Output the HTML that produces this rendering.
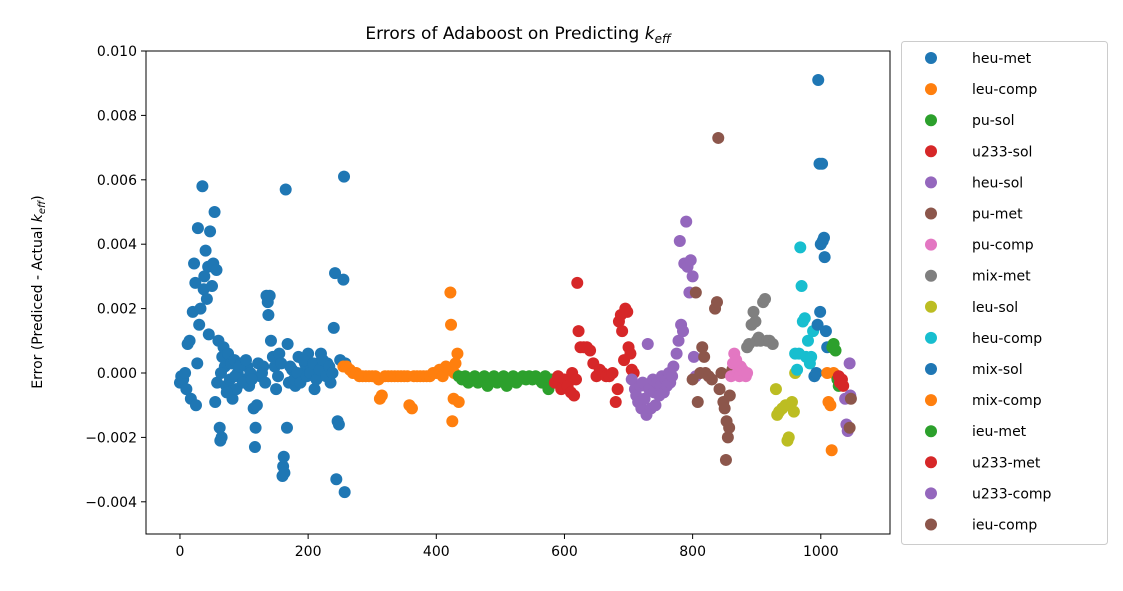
<!DOCTYPE html>
<html><head><meta charset="utf-8">
<style>
body{margin:0;background:#fff;font-family:"Liberation Sans","DejaVu Sans",sans-serif;}
svg text{font-family:"DejaVu Sans","Liberation Sans",sans-serif;}
</style></head>
<body>
<svg id="chart" width="1123" height="586" xmlns="http://www.w3.org/2000/svg"></svg>
<script>
// Data (y values in units of 1e-3)
const seriesNames = ["heu-met","leu-comp","pu-sol","u233-sol","heu-sol","pu-met","pu-comp","mix-met","leu-sol","heu-comp","mix-sol","mix-comp","ieu-met","u233-met","u233-comp","ieu-comp"];
const seriesColors = ["#1f77b4","#ff7f0e","#2ca02c","#d62728","#9467bd","#8c564b","#e377c2","#7f7f7f","#bcbd22","#17becf","#1f77b4","#ff7f0e","#2ca02c","#d62728","#9467bd","#8c564b"];
const heuMetX=[0,2,5,8,10,12,15,17,20,22,24,25,27,28,30,32,35,37,38,40,42,44,45,47,50,52,54,55,57,58,60,62,63,65,66,68,70,72,75,78,80,82,85,88,90,95,100,105,108,110,115,117,118,120,122,125,130,135,137,138,140,142,145,150,155,160,161,162,163,165,167,168,170,175,180,185,190,195,200,205,210,215,220,225,230,235,240,242,244,246,248,250,255,256,257,258,64,73,86,93,98,103,112,128,133,148,153,158,172,178,183,188,193,198,203,208,213,218,223,228,233,238];
const heuMetY=[-0.3,-0.1,-0.2,0.0,-0.5,0.9,1.0,-0.8,1.9,3.4,2.8,-1.0,0.3,4.5,1.5,2.0,5.8,2.6,3.0,3.8,2.3,3.3,1.2,4.4,2.7,3.4,5.0,-0.9,3.2,-0.3,1.0,-1.7,-2.1,-2.0,0.5,0.8,0.2,-0.4,0.6,-0.2,0.3,-0.8,0.4,-0.5,0.0,0.3,-0.2,0.2,-0.4,0.0,-1.1,-2.3,-1.7,-1.0,0.3,-0.1,0.2,2.4,2.2,1.8,2.4,1.0,0.5,-0.5,0.6,-3.2,-2.9,-2.6,-3.1,5.7,-1.7,0.9,-0.3,0.1,-0.4,0.5,0.0,0.3,0.6,0.2,-0.5,0.3,0.6,0.0,0.3,-0.3,1.4,3.1,-3.3,-1.5,-1.6,0.4,2.9,6.1,-3.7,0.3,0.0,-0.6,-0.1,0.2,-0.3,0.4,-0.2,0.0,-0.3,0.2,-0.1,0.3,0.2,-0.2,0.0,-0.3,0.4,-0.1,0.0,0.3,-0.2,0.1,0.4,-0.1,0.2,0.0];
const leuCompX=[255,260,265,270,275,280,285,290,295,300,305,310,312,315,320,325,330,335,340,345,350,355,358,362,365,370,375,380,385,390,395,400,405,410,415,420,422,423,425,427,430,433,435,428];
const leuCompY=[0.2,0.2,0.1,0.0,0.0,-0.1,-0.1,-0.1,-0.1,-0.1,-0.1,-0.2,-0.8,-0.7,-0.1,-0.1,-0.1,-0.1,-0.1,-0.1,-0.1,-0.1,-1.0,-1.1,-0.1,-0.1,-0.1,-0.1,-0.1,-0.1,0.0,0.0,0.1,-0.1,0.2,0.1,2.5,1.5,-1.5,-0.8,0.3,0.6,-0.9,0.0];
const puSolX=[435,440,445,450,455,460,465,470,475,480,485,490,495,500,505,510,515,520,525,530,535,540,545,550,555,560,565,570,575,580,585];
const puSolY=[-0.1,-0.2,-0.1,-0.3,-0.2,-0.1,-0.3,-0.2,-0.1,-0.4,-0.2,-0.1,-0.3,-0.2,-0.1,-0.4,-0.2,-0.1,-0.3,-0.2,-0.1,-0.2,-0.1,-0.2,-0.1,-0.2,-0.3,-0.1,-0.5,-0.2,-0.3];
const u233SolX=[585,590,595,600,605,610,612,615,618,620,622,625,630,635,640,645,650,655,660,665,670,675,680,683,685,688,690,693,695,698,700,703,705,708];
const u233SolY=[-0.3,-0.1,-0.5,-0.2,-0.4,-0.6,0.0,-0.7,-0.2,2.8,1.3,0.8,0.8,0.8,0.7,0.3,-0.1,0.1,0.0,-0.1,-0.1,0.0,-0.9,-0.5,1.6,1.8,1.3,0.4,2.0,1.9,0.8,0.6,0.1,0.0];
const heuSolX=[705,710,712,715,718,720,722,725,728,730,732,735,738,740,742,745,748,750,752,755,758,760,763,765,768,770,775,778,780,782,785,787,790,792,795,797,800,802,805];
const heuSolY=[-0.2,-0.5,-0.7,-0.9,-0.4,-1.1,-0.3,-0.8,-1.3,0.9,-0.5,-1.1,-0.2,-0.6,-1.0,-0.3,-0.7,-0.4,-0.1,-0.6,-0.2,-0.4,0.0,-0.3,-0.1,0.2,0.6,1.0,4.1,1.5,1.3,3.4,4.7,3.3,2.5,3.5,3.0,0.5,-0.1];
const puMetX=[800,805,808,812,815,818,820,825,830,835,838,840,842,845,848,850,852,853,855,857,858,860,862];
const puMetY=[-0.2,2.5,-0.9,0.0,0.8,0.5,0.0,-0.1,-0.2,2.0,2.2,7.3,-0.5,0.0,-0.9,-1.1,-2.7,-1.5,-2.0,-1.7,-0.7,0.0,0.1];
const puCompX=[860,863,865,868,870,873,875,878,880,883,885];
const puCompY=[-0.1,0.3,0.6,0.4,0.0,-0.1,0.2,0.1,0.0,-0.1,0.0];
const mixMetX=[885,888,892,895,898,900,903,906,910,913,916,920,925];
const mixMetY=[0.8,0.9,1.5,1.9,1.6,1.0,1.1,1.0,2.2,2.3,1.0,1.0,0.9];
const leuSolX=[930,932,935,940,945,948,950,955,958,960];
const leuSolY=[-0.5,-1.3,-1.2,-1.1,-1.0,-2.1,-2.0,-0.9,-1.2,0.0];
const heuCompX=[960,963,966,968,970,972,975,977,980,983,985,988];
const heuCompY=[0.6,0.1,0.6,3.9,2.7,1.6,1.7,0.5,1.0,0.3,0.5,1.3];
const mixSolX=[990,993,995,996,998,999,1000,1002,1003,1005,1006,1008,1010];
const mixSolY=[-0.1,0.0,1.5,9.1,6.5,1.9,4.0,6.5,4.1,4.2,3.6,1.3,0.8];
const mixCompX=[1010,1012,1015,1017,1020];
const mixCompY=[0.0,-0.9,-1.0,-2.4,0.0];
const ieuMetX=[1018,1020,1023,1026,1028];
const ieuMetY=[0.8,0.9,0.7,-0.2,-0.4];
const u233MetX=[1028,1030,1033,1035];
const u233MetY=[-0.1,-0.3,-0.2,-0.4];
const u233CompX=[1038,1040,1042,1045,1046];
const u233CompY=[-0.8,-1.6,-1.8,0.3,-0.7];
const ieuCompX=[1045,1047];
const ieuCompY=[-1.7,-0.8];
const xTicks=[0,200,400,600,800,1000];
const yTicks=[-0.004,-0.002,0.000,0.002,0.004,0.006,0.008,0.010];
const yTickLabels=["\u22120.004","\u22120.002","0.000","0.002","0.004","0.006","0.008","0.010"];

const allX=[heuMetX,leuCompX,puSolX,u233SolX,heuSolX,puMetX,puCompX,mixMetX,leuSolX,heuCompX,mixSolX,mixCompX,ieuMetX,u233MetX,u233CompX,ieuCompX];
const allY=[heuMetY,leuCompY,puSolY,u233SolY,heuSolY,puMetY,puCompY,mixMetY,leuSolY,heuCompY,mixSolY,mixCompY,ieuMetY,u233MetY,u233CompY,ieuCompY];

const L=146,R=890,T=51,B=534;
const xMin=-53,xMax=1108,yMin=-0.005,yMax=0.010;
const xs=v=>L+(v-xMin)/(xMax-xMin)*(R-L);
const ys=v=>B-(v-yMin)/(yMax-yMin)*(B-T);
const NS="http://www.w3.org/2000/svg";
const svg=document.getElementById('chart');
function mk(tag,attrs,parent){const e=document.createElementNS(NS,tag);for(const k in attrs)e.setAttribute(k,attrs[k]);(parent||svg).appendChild(e);return e;}

// points
const gPts=mk('g',{});


for(let s=0;s<seriesNames.length;s++){
  const g=mk('g',{fill:seriesColors[s]},gPts);
  
  
  for(let i=0;i<allX[s].length;i++){
    const c=mk('circle',{cx:xs(allX[s][i]),cy:ys(allY[s][i]*1e-3),r:6},g);
    
    
  }
}
// frame
const frame=mk('rect',{x:L,y:T,width:R-L,height:B-T,fill:'none',stroke:'#000','stroke-width':1});


// ticks
xTicks.forEach(t=>{
  const x=xs(t);
  mk('line',{x1:x,x2:x,y1:B,y2:B+5,stroke:'#000'});
  const tx=mk('text',{x:x,y:B+22,'text-anchor':'middle','font-size':14});
  tx.textContent=t;
  
  
});
yTicks.forEach((t,i)=>{
  const y=ys(t);
  mk('line',{x1:L-5,x2:L,y1:y,y2:y,stroke:'#000'});
  const tx=mk('text',{x:L-9,y:y+5,'text-anchor':'end','font-size':14});
  tx.textContent=yTickLabels[i];
  
  
});
// title
const title=mk('text',{x:518,y:39,'text-anchor':'middle','font-size':17});
title.innerHTML='Errors of Adaboost on Predicting <tspan font-style="italic">k</tspan><tspan font-style="italic" font-size="12" dy="4">eff</tspan>';


// y label
const yl=mk('text',{x:0,y:0,'text-anchor':'middle','font-size':14,transform:'translate(42,292) rotate(-90)'});
yl.innerHTML='Error (Prediced - Actual <tspan font-style="italic">k</tspan><tspan font-style="italic" font-size="10" dy="3">eff</tspan><tspan dy="-3">)</tspan>';


// legend
const lg=mk('g',{});


mk('rect',{x:901.5,y:41.5,width:206,height:503,rx:3,fill:'#fff',stroke:'#ccc'},lg);
seriesNames.forEach((n,i)=>{
  const y=58+i*31.1;
  const e=mk('g',{},lg);
  
  
  mk('circle',{cx:931,cy:y,r:6,fill:seriesColors[i]},e);
  const t=mk('text',{x:972,y:y+5,'font-size':14},e);
  t.textContent=n;
});
</script>
</body></html>
